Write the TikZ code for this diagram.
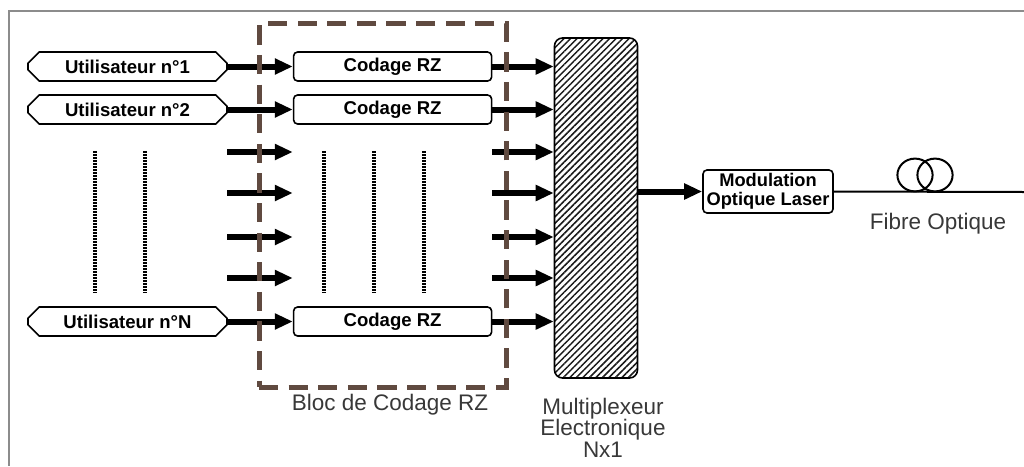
\documentclass[tikz,border=0pt]{standalone}
\usepackage{fontspec}
\setmainfont{Liberation Sans}
\usetikzlibrary{arrows.meta,positioning,shapes.misc,patterns.meta}
\definecolor{blocbrown}{RGB}{96,74,64}

\begin{document}
\begin{tikzpicture}[
  x=0.25mm, y=-0.25mm,
  font=\fontsize{16}{18}\selectfont,
  >={Triangle[length=4.5mm,width=3.8mm]},
  userbox/.style={
    draw, line width=0.4mm, chamfered rectangle,
    chamfered rectangle xsep=1.3mm, chamfered rectangle ysep=1.5mm,
    minimum width=49.75mm, minimum height=7.25mm, inner sep=0pt,
    font=\fontsize{13.2}{14}\selectfont\bfseries
  },
  codebox/.style={
    draw, line width=0.4mm, rounded corners=1mm,
    minimum width=49.5mm, minimum height=7.25mm, inner sep=0pt,
    font=\fontsize{13.2}{14}\selectfont\bfseries
  },
  muxbox/.style={
    draw, line width=0.4mm, rounded corners=2mm,
    minimum width=20.75mm, minimum height=85mm,
    pattern={Lines[angle=45,distance=1.15mm,line width=0.38mm]},
    pattern color=black!90
  },
  modbox/.style={
    draw, line width=0.4mm, rounded corners=1mm,
    minimum width=32.5mm, minimum height=10.75mm,
    align=center, inner sep=0.4mm,
    font=\fontsize{13}{13.2}\selectfont\bfseries
  },
  blocframe/.style={
    draw=blocbrown, line width=1.25mm,
    dash pattern=on 4.8mm off 2.6mm,
    minimum width=61.75mm, minimum height=90.75mm
  },
  fat/.style={->, line width=1.5mm},
  fibre/.style={line width=0.5mm},
  dots/.style={line width=0.8mm, dash pattern=on 0.5mm off 0.25mm},
  lbl/.style={text=black!78, font=\fontsize{16}{15.4}\selectfont,
    align=center, inner sep=0pt},
  frame/.style={draw=black!45, line width=0.5mm}
]
\useasboundingbox (0,0) rectangle (1024,466);

% =============================================================
% outer frame
% =============================================================
\coordinate (frameTR) at (1024,11);
\coordinate (frameTL) at (9,11);
\coordinate (frameBL) at (9,466);
\draw[frame] (frameTR) -- (frameTL) -- (frameBL);

% =============================================================
% users and RZ coders
% =============================================================
\node[userbox] (user1) at (127.5,66.5) {Utilisateur n°1};
\node[userbox] (user2) at (127.5,109.5) {Utilisateur n°2};
\node[userbox] (userN) at (127.5,321.5) {Utilisateur n°N};

\node[codebox, right=16.25mm of user1] (code1) {Codage RZ};
\node[codebox, right=16.25mm of user2] (code2) {Codage RZ};
\node[codebox, right=16.25mm of userN] (codeN) {Codage RZ};

% dotted ellipsis columns
\foreach \dx in {95,145,324,374,424}
  \draw[dots] (\dx,151) -- (\dx,293);

% =============================================================
% multiplexer and optical part
% =============================================================
\node[muxbox] (mux) at (596,208) {};
\node[lbl, anchor=north] (muxlbl) at (603,397.5)
   {Multiplexeur\\Electronique\\Nx1};

\node[modbox] (mod) at (768,191.5) {Modulation\\Optique Laser};

\coordinate (fibreEnd) at (1024,192);
\coordinate (coilA) at (915,175);
\coordinate (coilB) at (935,175);
\node[lbl, anchor=base] (fibrelbl) at (938,229) {Fibre Optique};

% =============================================================
% arrows
% =============================================================

% users -> coders
\draw[fat] (user1.east) -- (code1.west);
\draw[fat] (user2.east) -- (code2.west);
\draw[fat] (userN.east) -- (codeN.west);

% coders -> mux
\draw[fat] (code1.east) -- (code1.east -| mux.west);
\draw[fat] (code2.east) -- (code2.east -| mux.west);
\draw[fat] (codeN.east) -- (codeN.east -| mux.west);

% intermediate channels
\foreach \r/\yy in {a/152,b/193,c/237,d/278} {
  \coordinate (in\r) at (227,\yy);
  \draw[fat] (in\r) -- (in\r -| code1.west);
  \draw[fat] (code1.east |- in\r) -- (mux.west |- in\r);
}

% mux -> modulation
\draw[fat] (mux.east |- mod.west) -- (mod.west);

% fibre with coil
\draw[fibre] (mod.east) -- (fibreEnd);
\draw[fibre] (coilA) ellipse [x radius=4.4mm, y radius=4.1mm];
\draw[fibre] (coilB) ellipse [x radius=4.4mm, y radius=4.1mm];

% =============================================================
% RZ coding block
% =============================================================
\node[blocframe] (bloc) at (382.5,205.5) {};
\node[lbl, anchor=base] (bloclbl) at (390,410) {Bloc de Codage RZ};

\end{tikzpicture}
\end{document}
